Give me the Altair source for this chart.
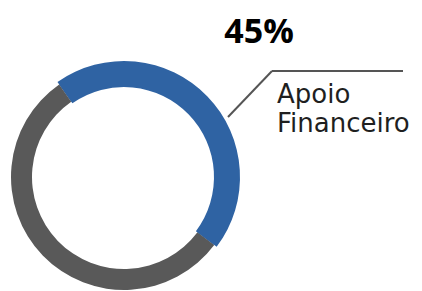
import math
import altair as alt
import pandas as pd

categories = ["Apoio Financeiro", "Outros"]
values = [45, 55]
label_pct = "45%"
label_lines = ["Apoio", "Financeiro"]

df = pd.DataFrame({"category": categories, "value": values, "order": [0, 1]})

start = math.radians(-35)
theta_scale = alt.Scale(range=[start, start + 2 * math.pi])

CX, CY = 116, 169

base = alt.Chart(df).encode(
    theta=alt.Theta("value:Q", stack=True, scale=theta_scale),
    order=alt.Order("order:Q"),
    x=alt.value(CX),
    y=alt.value(CY),
)

grey_ring = base.mark_arc(radius=113, radius2=92, color="#595959")

blue_arc = base.mark_arc(radius=116, radius2=90, color="#2f63a3").encode(
    opacity=alt.condition(
        alt.datum.category == categories[0], alt.value(1), alt.value(0)
    )
)

pct_text = alt.Chart(pd.DataFrame({"t": [label_pct]})).mark_text(
    font="Open Sans", fontWeight="bold", fontSize=34, color="#000000",
    align="center", baseline="alphabetic"
).encode(text="t:N", x=alt.value(251), y=alt.value(35))

name_text = alt.Chart(pd.DataFrame({"t": [label_lines]})).mark_text(
    font="DejaVu Sans", fontSize=26, color="#1f1f1f",
    align="left", baseline="alphabetic", lineHeight=29
).encode(text="t:N", x=alt.value(269), y=alt.value(95))

leader_diag = alt.Chart(df.head(1)).mark_rule(color="#555555", strokeWidth=2).encode(
    x=alt.value(220), y=alt.value(109), x2=alt.value(264), y2=alt.value(63)
)
leader_h = alt.Chart(df.head(1)).mark_rule(color="#555555", strokeWidth=2).encode(
    x=alt.value(264), y=alt.value(63), x2=alt.value(395), y2=alt.value(63)
)

chart = alt.layer(grey_ring, blue_arc, leader_diag, leader_h, pct_text, name_text).properties(
    width=406, height=283, autosize=alt.AutoSizeParams(type="none"), padding=0
).configure_view(stroke=None)

chart.save("out.html", embed_options={"renderer": "svg", "actions": False})
